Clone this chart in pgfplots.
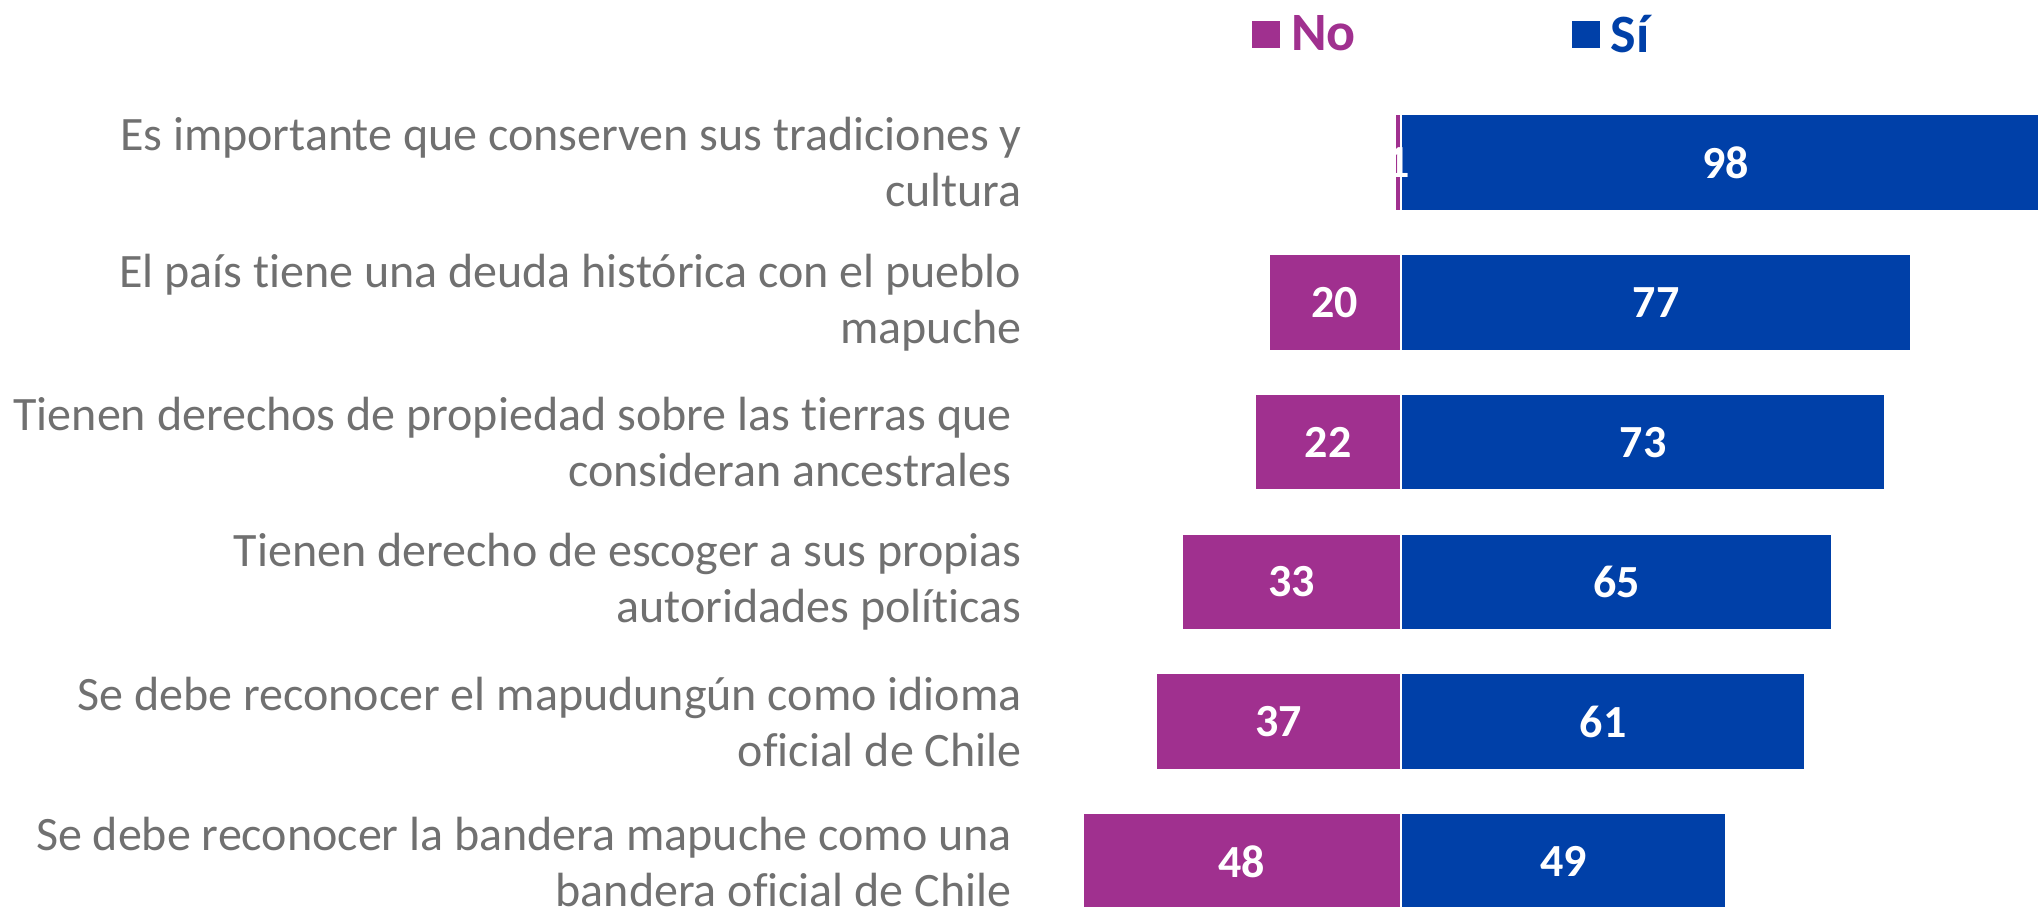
\documentclass[border=0pt]{standalone}
\usepackage{fontspec}
\setmainfont{Carlito}[RawFeature={-liga;-clig;-calt;-dlig}]
\usepackage{pgfplots}
\pgfplotsset{compat=1.18}
\definecolor{nocol}{HTML}{A0308F}
\definecolor{sicol}{HTML}{0040A8}
\definecolor{labgray}{HTML}{707070}

\begin{document}
\begin{tikzpicture}
\begin{axis}[
    name=ax,
    scale only axis,
    width=1026pt, height=453pt,
    xmin=-211.31, xmax=98.19,
    ymin=-1.162, ymax=5.318,
    y dir=reverse,
    clip=false,
    axis line style={draw=none},
    xtick=\empty,
    ytick={0,...,5},
    major tick length=0pt,
    yticklabels={
        {Es importante que conserven sus tradiciones y\\cultura},
        {El país tiene una deuda histórica con el pueblo\\mapuche},
        {Tienen derechos de propiedad sobre las tierras que\hspace*{5pt}\\consideran ancestrales\hspace*{5pt}},
        {Tienen derecho de escoger a sus propias\\autoridades políticas},
        {Se debe reconocer el mapudungún como idioma\\oficial de Chile},
        {Se debe reconocer la bandera mapuche como una\hspace*{5pt}\\bandera oficial de Chile\hspace*{5pt}}
    },
    yticklabel style={anchor=east, xshift=511pt, inner sep=0pt, align=right,
        text=labgray, font=\fontsize{24}{28}\selectfont},
    xbar, bar width=48.5pt, bar shift=0pt,
    point meta=explicit,
    /pgf/number format/assume math mode=true,
    nodes near coords,
    visualization depends on={x \as \rawx},
    every node near coord/.append style={anchor=center, text=white,
        font=\fontsize{23}{28}\selectfont\bfseries,
        shift={(axis direction cs:-\rawx/2,0)}},
    legend columns=2,
    legend style={at={(axis description cs:0.6101,0.9614)}, anchor=west,
        draw=none, fill=none, inner sep=0pt,
        font=\fontsize{27}{30}\selectfont\bfseries,
        nodes={inner sep=0pt},
        /tikz/every odd column/.append style={column sep=5.5pt},
        /tikz/every even column/.append style={column sep=108pt}},
    legend image code/.code={\fill[#1, draw=none] (0pt,-6.5pt) rectangle (14pt,7pt);},
]
\addplot[fill=nocol, draw=white, line width=1.2pt] coordinates {
    (-1,0) [1]
    (-20,1) [20]
    (-22,2) [22]
    (-33,3) [33]
    (-37,4) [37]
    (-48,5) [48]
};
\addlegendentry{\textcolor{nocol}{No}}
\addplot[fill=sicol, draw=white, line width=1.2pt] coordinates {
    (98,0) [98]
    (77,1) [77]
    (73,2) [73]
    (65,3) [65]
    (61,4) [61]
    (49,5) [49]
};
\addlegendentry{\textcolor{sicol}{Sí}}
\end{axis}
\pgfresetboundingbox
\useasboundingbox (ax.south west) rectangle ([xshift=-7pt]ax.north east);
\end{tikzpicture}
\end{document}
